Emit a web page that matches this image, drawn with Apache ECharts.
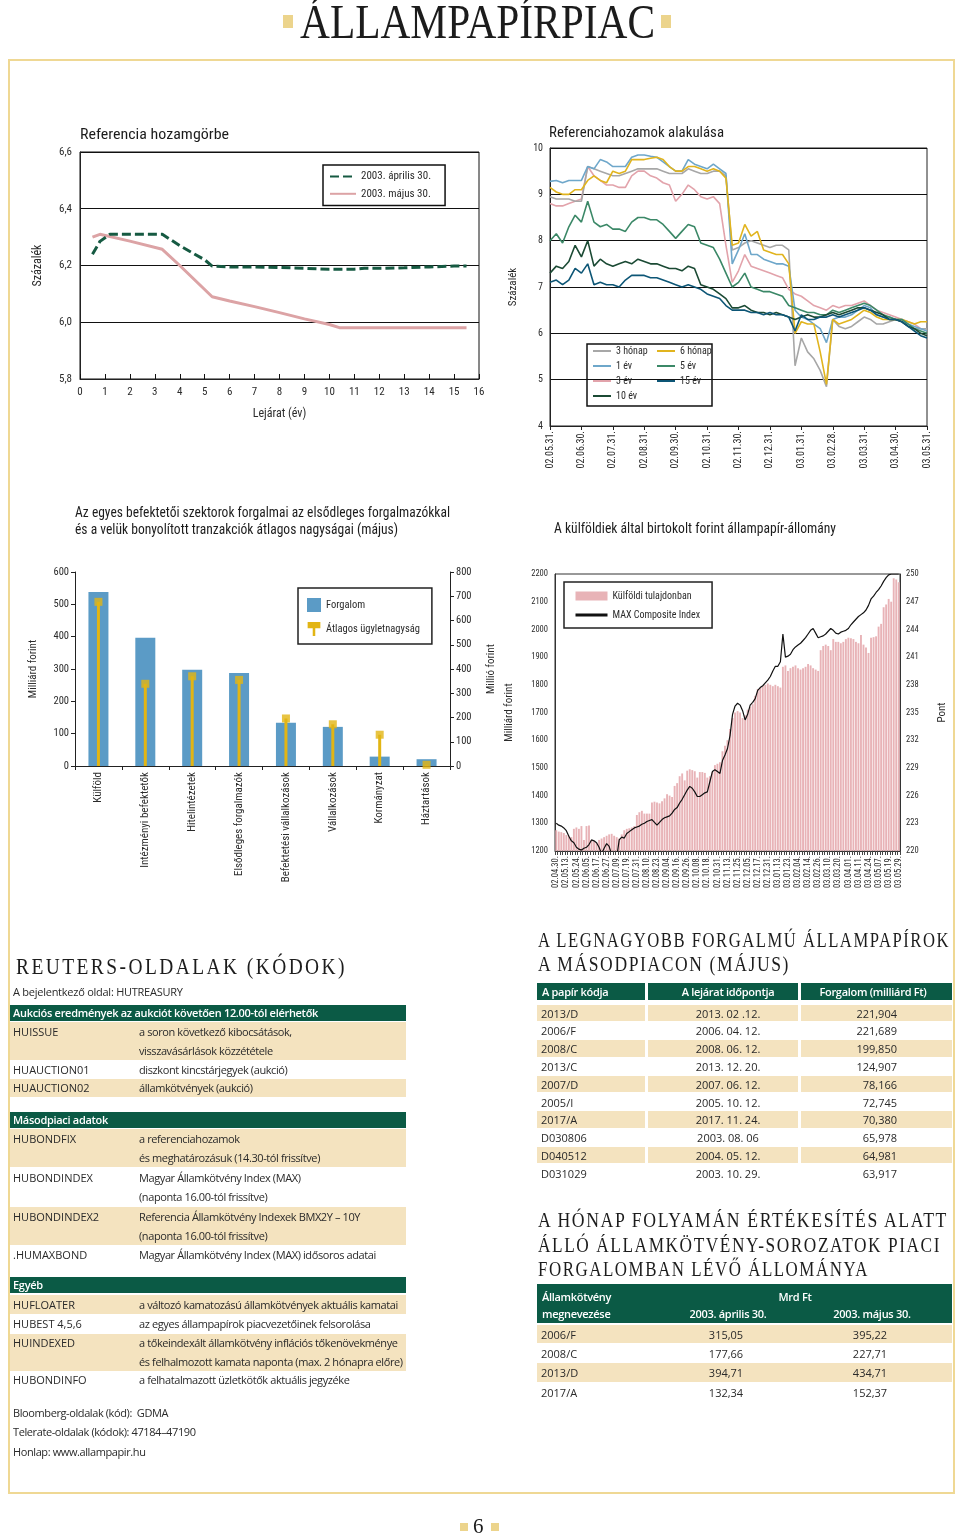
<!DOCTYPE html>
<html lang="hu"><head><meta charset="utf-8"><title>Állampapírpiac</title>
<script src="https://cdn.jsdelivr.net/npm/echarts/dist/echarts.min.js"></script>
<style>
html,body{margin:0;padding:0;background:#fff;}
#page{position:relative;width:960px;height:1537px;overflow:hidden;background:#fff;}
#chart{position:absolute;left:0;top:0;width:960px;height:1537px;}
.a{position:absolute;white-space:nowrap;line-height:1;transform-origin:0 0;}
.serif{font-family:"Liberation Serif","DejaVu Serif",serif;color:#1c1c1c;}
.cond{font-family:"Liberation Sans Narrow","Arial Narrow","Roboto Condensed",Roboto,sans-serif;color:#1c1c1c;}
.os{font-family:"Open Sans","Noto Sans",sans-serif;font-size:11px;color:#2a2a2a;}
.tight{letter-spacing:-0.4px;}
.tight2{letter-spacing:-0.25px;}
.sq{position:absolute;background:#ecd48c;}
.frame{position:absolute;left:8px;top:59px;width:943px;height:1431px;border:2px solid #efd894;}
.blk{position:absolute;}
.hd{color:#fff;font-weight:600;letter-spacing:-0.3px;}
</style></head>
<body><div id="page">
<div class="frame"></div>
<div id="chart"></div>

<div class="sq" style="left:283px;top:15px;width:10px;height:13px"></div>
<div class="sq" style="left:661px;top:15px;width:10px;height:13px"></div>
<div class="a serif" data-w="355" style="left:300px;top:-2px;font-size:48px;">ÁLLAMPAPÍRPIAC</div>

<div class="a cond" data-w="149" style="left:80px;top:127px;font-size:15px;">Referencia hozamgörbe</div>
<div class="a cond" data-w="175" style="left:549px;top:125px;font-size:14px;">Referenciahozamok alakulása</div>
<div class="a cond" data-w="375" style="left:75px;top:505px;font-size:15px;">Az egyes befektetői szektorok forgalmai az elsődleges forgalmazókkal</div>
<div class="a cond" data-w="323" style="left:75px;top:522px;font-size:15px;">és a velük bonyolított tranzakciók átlagos nagyságai (május)</div>
<div class="a cond" data-w="282" style="left:554px;top:521px;font-size:14px;">A külföldiek által birtokolt forint állampapír-állomány</div>

<div class="a serif" data-w="331" style="left:16px;top:954px;font-size:24px;letter-spacing:3px;">REUTERS-OLDALAK (KÓDOK)</div>
<div class="a os tight2" style="left:13px;top:986px;">A bejelentkező oldal: HUTREASURY</div>
<div id="reuters"></div>
<div class="a os tight" style="left:13px;top:1407px;">Bloomberg-oldalak (kód):&nbsp; GDMA</div>
<div class="a os tight" style="left:13px;top:1426px;">Telerate-oldalak (kódok): 47184–47190</div>
<div class="a os tight" style="left:13px;top:1446px;">Honlap: www.allampapir.hu</div>

<div class="a serif" data-w="412" style="left:538px;top:929px;font-size:22px;letter-spacing:2px;">A LEGNAGYOBB FORGALMÚ ÁLLAMPAPÍROK</div>
<div class="a serif" data-w="252" style="left:538px;top:953px;font-size:22px;letter-spacing:2px;">A MÁSODPIACON (MÁJUS)</div>
<div id="top10"></div>

<div class="a serif" data-w="410" style="left:538px;top:1209px;font-size:22px;letter-spacing:2px;">A HÓNAP FOLYAMÁN ÉRTÉKESÍTÉS ALATT</div>
<div class="a serif" data-w="403" style="left:538px;top:1234px;font-size:22px;letter-spacing:2px;">ÁLLÓ ÁLLAMKÖTVÉNY-SOROZATOK PIACI</div>
<div class="a serif" data-w="331" style="left:538px;top:1258px;font-size:22px;letter-spacing:2px;">FORGALOMBAN LÉVŐ ÁLLOMÁNYA</div>
<div id="series"></div>

<div class="sq" style="left:460px;top:1523px;width:8px;height:8px"></div>
<div class="sq" style="left:491px;top:1523px;width:8px;height:8px"></div>
<div class="a serif" style="left:473px;top:1516px;font-size:21px;">6</div>
</div>

<script>
// ---------- Referencia hozamgörbe ----------
const curveAprX = [0.5, 0.8, 1.2, 2, 3, 3.3, 4, 5, 5.3, 6, 7, 8, 9, 10, 11, 11.4, 12, 13, 14, 15, 15.5];
const curveAprY = [6.24, 6.285, 6.31, 6.31, 6.31, 6.31, 6.27, 6.22, 6.198, 6.195, 6.195, 6.193, 6.19, 6.187, 6.187, 6.19, 6.19, 6.192, 6.195, 6.198, 6.198];
const curveMayX = [0.5, 0.8, 2, 3.3, 4, 5.3, 6, 7, 8, 9, 10, 10.4, 11, 12, 13, 14, 15, 15.5];
const curveMayY = [6.30, 6.31, 6.286, 6.257, 6.20, 6.09, 6.075, 6.055, 6.034, 6.012, 5.992, 5.981, 5.981, 5.981, 5.981, 5.981, 5.981, 5.981];

// ---------- Referenciahozamok alakulása (5 points per month) ----------
const yieldMonthLabels = ['02.05.31.','02.06.30.','02.07.31.','02.08.31.','02.09.30.','02.10.31.','02.11.30.','02.12.31.','03.01.31.','03.02.28.','03.03.31.','03.04.30.','03.05.31.'];
const y3m = [8.95,8.90,8.90,8.90,8.85, 8.85,9.60,9.55,9.50,9.45, 9.40,9.40,9.45,9.50,9.55, 9.55,9.55,9.55,9.50,9.45,
  9.45,9.45,9.55,9.50,9.45, 9.45,9.50,9.50,9.40,7.80, 7.85,7.95,8.00,7.95,7.90, 7.85,7.90,7.90,7.80,5.30,
  5.90,5.60,5.45,5.20,4.85, 6.30,6.15,6.10,6.15,6.25, 6.35,6.30,6.20,6.20,6.25, 6.30,6.25,6.15,6.10,6.10, 6.10];
const y6m = [9.15,9.05,9.00,9.00,9.10, 9.10,9.30,9.40,9.30,9.25, 9.50,9.45,9.50,9.75,9.75, 9.75,9.78,9.80,9.75,9.60,
  9.50,9.50,9.60,9.60,9.55, 9.50,9.55,9.50,9.35,7.90, 7.95,8.35,8.10,8.20,7.80, 7.75,7.70,7.70,7.50,6.00,
  6.25,6.20,6.20,5.60,4.90, 6.30,6.20,6.25,6.30,6.40, 6.50,6.45,6.35,6.30,6.30, 6.30,6.30,6.25,6.20,6.25, 6.25];
const y1y = [9.28,9.30,9.25,9.30,9.30, 9.30,9.60,9.55,9.75,9.70, 9.60,9.60,9.60,9.80,9.85, 9.85,9.82,9.80,9.70,9.60,
  9.50,9.50,9.75,9.65,9.60, 9.55,9.65,9.55,9.45,7.50, 7.80,8.15,7.70,7.70,7.60, 7.55,7.50,7.50,7.45,6.50,
  6.35,6.30,6.20,6.10,5.80, 6.30,6.35,6.35,6.40,6.50, 6.60,6.55,6.40,6.35,6.35, 6.30,6.30,6.20,6.15,6.10, 6.05];
const y3y = [8.80,8.75,8.75,8.80,8.85, 8.90,9.60,9.40,9.30,9.20, 9.20,9.15,9.15,9.40,9.50, 9.50,9.40,9.35,9.25,9.20,
  8.85,9.00,9.20,9.10,8.95, 8.90,8.95,8.80,7.90,7.10, 7.35,7.70,7.45,7.40,7.35, 7.30,7.25,7.20,6.95,6.85,
  6.80,6.70,6.60,6.55,6.50, 6.60,6.55,6.60,6.60,6.65, 6.70,6.60,6.50,6.45,6.40, 6.35,6.30,6.25,6.20,6.10, 6.10];
const y5y = [8.00,8.15,7.95,8.30,8.55, 8.40,8.85,8.40,8.30,8.35, 8.25,8.25,8.20,8.40,8.50, 8.50,8.45,8.45,8.35,8.20,
  8.05,8.20,8.35,8.30,7.95, 7.90,7.85,7.60,7.30,7.00, 7.10,7.30,7.00,6.95,6.90, 6.90,6.85,6.80,6.60,6.55,
  6.50,6.45,6.45,6.40,6.40, 6.50,6.45,6.50,6.55,6.60, 6.65,6.60,6.50,6.40,6.35, 6.30,6.30,6.20,6.10,6.05, 6.00];
const y10y = [7.30,7.45,7.40,7.55,7.90, 7.65,8.00,7.45,7.60,7.50, 7.45,7.50,7.55,7.50,7.60, 7.55,7.50,7.50,7.45,7.40,
  7.40,7.35,7.45,7.40,7.05, 7.00,6.95,6.85,6.75,6.55, 6.55,6.60,6.50,6.45,6.45, 6.40,6.45,6.40,6.35,6.30,
  6.35,6.40,6.35,6.35,6.40, 6.45,6.40,6.45,6.50,6.55, 6.55,6.50,6.45,6.40,6.30, 6.30,6.25,6.15,6.10,6.00, 5.95];
const y15y = [7.10,7.15,7.05,7.15,7.40, 7.30,7.50,7.05,7.10,7.05, 7.05,7.00,7.15,7.25,7.25, 7.25,7.20,7.20,7.15,7.10,
  7.05,7.00,7.05,7.00,6.95, 6.85,6.80,6.75,6.60,6.50, 6.50,6.50,6.45,6.45,6.40, 6.45,6.40,6.40,6.35,6.05,
  6.40,6.30,6.30,6.35,6.35, 6.40,6.35,6.40,6.45,6.50, 6.55,6.50,6.40,6.35,6.30, 6.30,6.25,6.15,6.05,5.95, 5.90];

// ---------- Szektorok forgalma ----------
const sectors = ['Külföld','Intézményi befektetők','Hitelintézetek','Elsődleges forgalmazók','Befektetési vállalkozások','Vállalkozások','Kormányzat','Háztartások'];
const turnover = [538, 397, 298, 288, 134, 121, 29, 21];
const avgDeal = [677, 339, 370, 355, 196, 172, 129, 5];

// ---------- Külföldiek állománya (4 points per label) ----------
const holdLabels = ['02.04.30.','02.05.13.','02.05.24.','02.06.05.','02.06.17.','02.06.27.','02.07.09.','02.07.19.','02.07.31.','02.08.10.','02.08.23.','02.09.04.','02.09.16.','02.09.26.','02.10.08.','02.10.18.','02.10.31.','02.11.13.','02.11.25.','02.12.05.','02.12.17.','02.12.31.','03.01.13.','03.01.23.','03.02.04.','03.02.14.','03.02.26.','03.03.10.','03.03.20.','03.04.01.','03.04.11.','03.04.24.','03.05.07.','03.05.19.','03.05.29.'];
const holdings = [1275,1270,1268,1265, 1258,1255,1250,1280, 1285,1280,1290,1240, 1290,1292,1240,1235,
  1230,1240,1245,1250, 1255,1260,1262,1255, 1250,1245,1260,1275, 1280,1282,1285,1290,
  1330,1340,1345,1335, 1335,1335,1375,1378, 1375,1372,1380,1390, 1405,1400,1395,1435,
  1445,1470,1480,1455, 1490,1495,1492,1488, 1465,1485,1485,1482, 1465,1470,1485,1510,
  1515,1520,1560,1580, 1600,1640,1680,1700, 1705,1700,1680,1690, 1710,1720,1730,1760,
  1785,1790,1795,1800, 1805,1800,1795,1800, 1795,1790,1865,1870, 1850,1860,1865,1870,
  1860,1855,1860,1865, 1875,1870,1860,1855, 1850,1925,1940,1945, 1940,1925,1965,1955,
  1955,1950,1955,1965, 1970,1968,1965,1955, 1950,1980,1945,1935, 1915,1970,1972,1975,
  2010,2020,2080,2090, 2110,2100,2185,2180, 2170];
const maxIndex = [223.0,222.8,222.7,222.5, 222.2,221.6,221.1,220.9, 220.4,220.2,220.1,220.3, 220.4,220.7,221.2,221.1,
  220.9,220.4,219.7,220.3, 220.8,220.5,219.6,219.2, 219.3,221.2,221.5,221.4, 221.9,222.1,222.3,222.5,
  222.6,222.7,222.9,223.0, 223.2,223.3,223.4,223.1, 222.8,223.1,223.4,223.6, 223.7,223.8,224.1,224.5,
  224.7,225.2,225.6,226.1, 226.6,227.0,226.8,226.4, 225.9,225.9,226.1,226.3, 226.4,227.5,228.6,228.8,
  228.6,228.4,229.8,230.4, 231.1,232.5,234.8,235.7, 236.0,235.8,235.2,234.2, 234.8,235.8,236.1,236.5,
  237.4,237.7,237.9,238.2, 238.5,238.9,239.5,240.0, 240.0,240.5,243.5,241.0, 241.1,241.3,241.8,242.1,
  242.3,242.5,242.8,243.1, 243.5,243.9,244.1,243.6, 243.1,243.2,243.3,243.5, 243.8,244.1,243.9,243.6,
  243.5,243.7,243.8,243.9, 244.1,244.5,244.8,245.1, 245.4,245.6,245.8,246.1, 246.6,247.3,247.6,248.0,
  248.3,248.7,249.2,249.6, 249.9,250.0,250.0,250.0, 250.0];

// ---------- Táblák ----------
const reutersRows = [
  {h:'Aukciós eredmények az aukciót követően 12.00-tól elérhetők', y:1005},
  {c:'HUISSUE', d:['a soron következő kibocsátások,','visszavásárlások közzététele'], y:1022, lh:19, tan:1},
  {c:'HUAUCTION01', d:['diszkont kincstárjegyek (aukció)'], y:1061, lh:18},
  {c:'HUAUCTION02', d:['államkötvények (aukció)'], y:1079, lh:18, tan:1},
  {h:'Másodpiaci adatok', y:1112},
  {c:'HUBONDFIX', d:['a referenciahozamok','és meghatározásuk (14.30-tól frissítve)'], y:1129, lh:19, tan:1},
  {c:'HUBONDINDEX', d:['Magyar Államkötvény Index (MAX)','(naponta 16.00-tól frissítve)'], y:1168, lh:19},
  {c:'HUBONDINDEX2', d:['Referencia Államkötvény Indexek BMX2Y – 10Y','(naponta 16.00-tól frissítve)'], y:1207, lh:19, tan:1},
  {c:'.HUMAXBOND', d:['Magyar Államkötvény Index (MAX) idősoros adatai'], y:1246, lh:18},
  {h:'Egyéb', y:1277},
  {c:'HUFLOATER', d:['a változó kamatozású államkötvények aktuális kamatai'], y:1295, lh:19, tan:1},
  {c:'HUBEST 4,5,6', d:['az egyes állampapírok piacvezetőinek felsorolása'], y:1315, lh:18},
  {c:'HUINDEXED', d:['a tőkeindexált államkötvény inflációs tőkenövekménye','és felhalmozott kamata naponta (max. 2 hónapra előre)'], y:1334, lh:18.5, tan:1},
  {c:'HUBONDINFO', d:['a felhatalmazott üzletkötők aktuális jegyzéke'], y:1371, lh:18}
];
const topCodes = ['2013/D','2006/F','2008/C','2013/C','2007/D','2005/I','2017/A','D030806','D040512','D031029'];
const topMaturity = ['2013. 02 .12.','2006. 04. 12.','2008. 06. 12.','2013. 12. 20.','2007. 06. 12.','2005. 10. 12.','2017. 11. 24.','2003. 08. 06','2004. 05. 12.','2003. 10. 29.'];
const topTurnover = ['221,904','221,689','199,850','124,907','78,166','72,745','70,380','65,978','64,981','63,917'];
const bondNames = ['2006/F','2008/C','2013/D','2017/A'];
const stockApr = ['315,05','177,66','394,71','132,34'];
const stockMay = ['395,22','227,71','434,71','152,37'];

const GREEN = '#0b5a45', TAN = '#f4e3bf';
const page = document.getElementById('page');
function box(x, y, w, h, bg) {
  const d = document.createElement('div'); d.className = 'blk';
  d.style.cssText = `left:${x}px;top:${y}px;width:${w}px;height:${h}px;background:${bg};`;
  page.appendChild(d); return d;
}
function txt(s, x, y, opts) {
  opts = opts || {};
  const d = document.createElement('div'); d.className = 'a os' + (opts.cls ? ' ' + opts.cls : '');
  d.textContent = s;
  d.style.top = y + 'px';
  if (opts.lh) d.style.lineHeight = opts.lh + 'px';
  page.appendChild(d);
  const w = d.getBoundingClientRect().width;
  let left = x;
  if (opts.align === 'center') left = x - w / 2;
  if (opts.align === 'right') left = x - w;
  d.style.left = left + 'px';
  return d;
}
// Reuters table
reutersRows.forEach(r => {
  if (r.h) {
    box(10, r.y, 396, 16, GREEN);
    txt(r.h, 13, r.y, {cls:'hd', lh:16});
  } else {
    const h = r.d.length * r.lh;
    if (r.tan) box(10, r.y, 396, h, TAN);
    txt(r.c, 13, r.y, {lh:r.lh});
    r.d.forEach((line, i) => txt(line, 139, r.y + i * r.lh, {lh:r.lh, cls:'tight'}));
  }
});
// Top 10 table
const cols = [[537,108],[648,150],[801,151]];
cols.forEach(c => box(c[0], 983, c[1], 17, GREEN));
txt('A papír kódja', 542, 983, {cls:'hd', lh:17});
txt('A lejárat időpontja', 728, 983, {cls:'hd', lh:17, align:'center'});
txt('Forgalom (milliárd Ft)', 873, 983, {cls:'hd', lh:17, align:'center'});
topCodes.forEach((code, i) => {
  const y = 1004.5 + i * 17.8;
  if (i % 2 === 0) cols.forEach(c => box(c[0], y, c[1], 16.5, TAN));
  txt(code, 541, y, {lh:17});
  txt(topMaturity[i], 728, y, {lh:17, align:'center'});
  txt(topTurnover[i], 897, y, {lh:17, align:'right'});
});
// Series table
box(537, 1284, 415, 39, GREEN);
txt('Államkötvény', 542, 1288, {cls:'hd', lh:17});
txt('Mrd Ft', 795, 1288, {cls:'hd', lh:17, align:'center'});
txt('megnevezése', 542, 1305, {cls:'hd', lh:17});
txt('2003. április 30.', 728, 1305, {cls:'hd', lh:17, align:'center'});
txt('2003. május 30.', 872, 1305, {cls:'hd', lh:17, align:'center'});
bondNames.forEach((b, i) => {
  const y = 1324.5 + i * 19.4;
  if (i % 2 === 0) box(537, y, 415, 18.5, TAN);
  txt(b, 541, y, {lh:19});
  txt(stockApr[i], 726, y, {lh:19, align:'center'});
  txt(stockMay[i], 870, y, {lh:19, align:'center'});
});
// fit titles to measured widths
document.querySelectorAll('[data-w]').forEach(el => {
  const w = el.getBoundingClientRect().width;
  el.style.transform = `scaleX(${parseFloat(el.dataset.w) / w})`;
});

// ---------- ECharts ----------
const CF = '"Liberation Sans Narrow","Arial Narrow","Roboto Condensed","DejaVu Sans Condensed",sans-serif';
const TC = '#2b2b2b';
const lab = (size, extra) => Object.assign({fontFamily: CF, fontSize: size, color: TC}, extra || {});
const axLine = {show: true, onZero: false, lineStyle: {color: '#222', width: 1}};
const noSplit = {show: false};
const blackSplit = {show: true, lineStyle: {color: '#111', width: 1}};
const hideSym = {opacity: 0};
const yc = {c3m:'#a7a7a7', c6m:'#e1b41e', c1y:'#6ea7ca', c5y:'#3b8867', c3y:'#e2a3ab', c15y:'#0d5676', c10y:'#1b4a34'};
const yieldLine = (name, arr, color) => ({
  type: 'line', name, xAxisIndex: 1, yAxisIndex: 1, symbol: 'none',
  data: arr.map((v, i) => [i, v]), lineStyle: {color, width: 1.6}, itemStyle: {color}
});

const chart = echarts.init(document.getElementById('chart'), null, {renderer: 'canvas', width: 960, height: 1537});
chart.setOption({
  animation: false,
  textStyle: {fontFamily: CF},
  grid: [
    {left: 80, top: 152, width: 399, height: 227, show: true, borderColor: '#111', borderWidth: 1},
    {left: 550, top: 148, width: 377, height: 278, show: true, borderColor: '#222', borderWidth: 1},
    {left: 75, top: 572, width: 375, height: 194, show: false},
    {left: 555, top: 574, width: 345, height: 277, show: true, borderColor: '#333', borderWidth: 1}
  ],
  xAxis: [
    {gridIndex: 0, type: 'value', min: 0, max: 16, interval: 1, axisLine: axLine,
     axisTick: {show: true, inside: true, length: 5, lineStyle: {color: '#111'}},
     axisLabel: lab(11, {margin: 8}), splitLine: noSplit,
     name: 'Lejárat (év)', nameLocation: 'middle', nameGap: 29, nameTextStyle: lab(12)},
    {gridIndex: 1, type: 'value', min: 0, max: 60, interval: 5, axisLine: axLine,
     axisTick: {show: true, length: 4, lineStyle: {color: '#222'}},
     axisLabel: lab(10, {rotate: 90, margin: 5, formatter: v => yieldMonthLabels[v / 5] || ''}), splitLine: noSplit},
    {gridIndex: 2, type: 'category', data: sectors, axisLine: axLine,
     axisTick: {show: true, length: 4, lineStyle: {color: '#222'}},
     axisLabel: lab(11, {rotate: 90, interval: 0, margin: 6})},
    {gridIndex: 2, type: 'category', data: sectors, show: false},
    {gridIndex: 3, type: 'category', data: holdings.map((_, i) => String(i)), axisLine: {show: true, onZero: false, lineStyle: {color: '#333', width: 1}},
     axisTick: {show: true, interval: 0, length: 4, lineStyle: {color: '#444'}},
     axisLabel: lab(8.5, {rotate: 90, interval: 3, margin: 5, formatter: (v, i) => holdLabels[i / 4] || ''})}
  ],
  yAxis: [
    {gridIndex: 0, type: 'value', min: 5.8, max: 6.6, interval: 0.2, axisLine: axLine, axisTick: {show: false},
     axisLabel: lab(11, {margin: 8, formatter: v => (Math.round(v * 10) / 10).toFixed(1).replace('.', ',')}),
     splitLine: blackSplit, name: 'Százalék', nameLocation: 'middle', nameRotate: 90, nameGap: 36, nameTextStyle: lab(12)},
    {gridIndex: 1, type: 'value', min: 4, max: 10, interval: 1, axisLine: axLine, axisTick: {show: false},
     axisLabel: lab(10, {margin: 7}), splitLine: blackSplit,
     name: 'Százalék', nameLocation: 'middle', nameRotate: 90, nameGap: 31, nameTextStyle: lab(11)},
    {gridIndex: 2, type: 'value', min: 0, max: 600, interval: 100, axisLine: axLine,
     axisTick: {show: true, length: 4, lineStyle: {color: '#222'}}, axisLabel: lab(10.5, {margin: 6}), splitLine: noSplit,
     name: 'Milliárd forint', nameLocation: 'middle', nameRotate: 90, nameGap: 36, nameTextStyle: lab(11)},
    {gridIndex: 2, type: 'value', min: 0, max: 800, interval: 100, position: 'right', axisLine: axLine,
     axisTick: {show: true, length: 4, lineStyle: {color: '#222'}}, axisLabel: lab(10.5, {margin: 6}), splitLine: noSplit,
     name: 'Millió forint', nameLocation: 'middle', nameRotate: 90, nameGap: 36, nameTextStyle: lab(11)},
    {gridIndex: 3, type: 'value', min: 1200, max: 2200, interval: 100, axisLine: {show: true, lineStyle: {color: '#333'}},
     axisTick: {show: false}, axisLabel: lab(8.5, {margin: 7, formatter: v => String(v)}), splitLine: noSplit,
     name: 'Milliárd forint', nameLocation: 'middle', nameRotate: 90, nameGap: 40, nameTextStyle: lab(11)},
    {gridIndex: 3, type: 'value', min: 220, max: 250, interval: 3, position: 'right', axisLine: {show: true, lineStyle: {color: '#333'}},
     axisTick: {show: false}, axisLabel: lab(8.5, {margin: 6}), splitLine: noSplit,
     name: 'Pont', nameLocation: 'middle', nameRotate: 90, nameGap: 37, nameTextStyle: lab(11)}
  ],
  legend: [
    {data: ['2003. április 30.', '2003. május 30.'], left: 323, top: 165, orient: 'vertical',
     padding: [6, 14, 6, 6], itemGap: 6, itemWidth: 26, itemHeight: 14, borderColor: '#111', borderWidth: 1.5,
     itemStyle: hideSym, textStyle: lab(11), selectedMode: false},
    {data: ['3 hónap', '1 év', '3 év', '10 év'], left: 592, top: 346, orient: 'vertical', padding: 0,
     itemGap: 5, itemWidth: 18, itemHeight: 10, itemStyle: hideSym, lineStyle: {width: 2}, textStyle: lab(10), selectedMode: false},
    {data: ['6 hónap', '5 év', '15 év'], left: 656, top: 346, orient: 'vertical', padding: 0,
     itemGap: 5, itemWidth: 18, itemHeight: 10, itemStyle: hideSym, lineStyle: {width: 2}, textStyle: lab(10), selectedMode: false},
    {data: [{name: 'Forgalom', icon: 'rect'}, {name: 'Átlagos ügyletnagyság', icon: 'path://M0,0 L10,0 L10,5 L6,5 L6,11 L4,11 L4,5 L0,5 Z'}],
     left: 298, top: 588, orient: 'vertical', padding: [10, 12, 8, 9], itemGap: 10, itemWidth: 14, itemHeight: 14,
     borderColor: '#222', borderWidth: 1.5, textStyle: lab(10.5), selectedMode: false},
    {data: [{name: 'Külföldi tulajdonban', icon: 'rect'}, {name: 'MAX Composite Index', itemStyle: hideSym, lineStyle: {width: 3}}],
     left: 564, top: 582, orient: 'vertical', padding: [9, 12, 8, 10], itemGap: 9, itemWidth: 32, itemHeight: 9,
     borderColor: '#222', borderWidth: 1.5, textStyle: lab(10), selectedMode: false}
  ],
  graphic: [
    {type: 'rect', shape: {x: 587, y: 344, width: 125, height: 62}, style: {fill: 'none', stroke: '#111', lineWidth: 1.5}, z: 10}
  ],
  series: [
    {type: 'line', name: '2003. május 30.', xAxisIndex: 0, yAxisIndex: 0, symbol: 'none',
     data: curveMayX.map((x, i) => [x, curveMayY[i]]), lineStyle: {color: '#dca3a5', width: 3}, itemStyle: {color: '#dca3a5'}},
    {type: 'line', name: '2003. április 30.', xAxisIndex: 0, yAxisIndex: 0, symbol: 'none',
     data: curveAprX.map((x, i) => [x, curveAprY[i]]), lineStyle: {color: '#165a42', width: 3, type: [9, 4]}, itemStyle: {color: '#165a42'}},

    yieldLine('3 év', y3y, yc.c3y),
    yieldLine('3 hónap', y3m, yc.c3m),
    yieldLine('1 év', y1y, yc.c1y),
    yieldLine('6 hónap', y6m, yc.c6m),
    yieldLine('5 év', y5y, yc.c5y),
    yieldLine('10 év', y10y, yc.c10y),
    yieldLine('15 év', y15y, yc.c15y),

    {type: 'bar', name: 'Forgalom', xAxisIndex: 2, yAxisIndex: 2, data: turnover, barWidth: 20, itemStyle: {color: '#5b9bc6'}},
    {type: 'bar', name: 'Átlagos ügyletnagyság', xAxisIndex: 3, yAxisIndex: 3, data: avgDeal, barWidth: 3, itemStyle: {color: '#e2b514'}, z: 3},
    {type: 'scatter', name: 'Átlagos ügyletnagyság', xAxisIndex: 3, yAxisIndex: 3, data: avgDeal, symbol: 'rect', symbolSize: [8, 8], itemStyle: {color: '#e2b514'}, z: 4},

    {type: 'bar', name: 'Külföldi tulajdonban', xAxisIndex: 4, yAxisIndex: 4, data: holdings, barCategoryGap: '25%', clip: true, itemStyle: {color: '#e8b3b7'}},
    {type: 'line', name: 'MAX Composite Index', xAxisIndex: 4, yAxisIndex: 5, data: maxIndex, symbol: 'none', clip: true,
     lineStyle: {color: '#111', width: 1.2}, itemStyle: {color: '#111'}}
  ]
});
</script>
</body></html>
